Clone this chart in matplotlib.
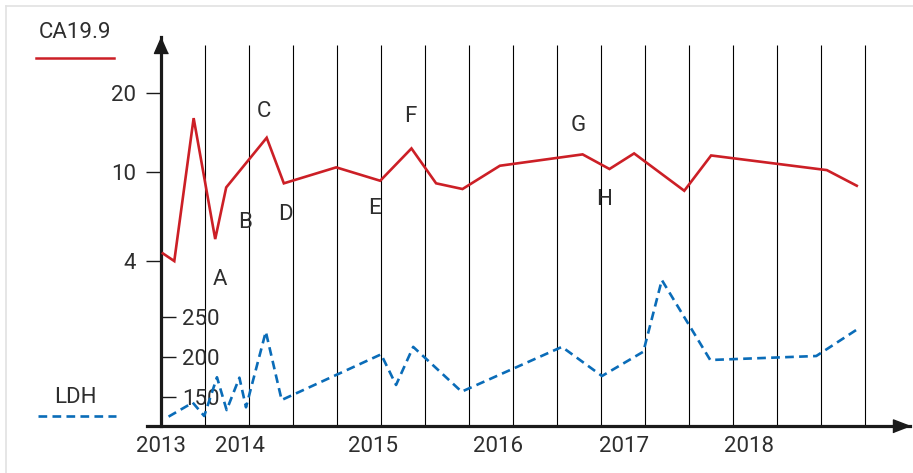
import numpy as np
import matplotlib
matplotlib.use("Agg")
from matplotlib import pyplot as plt
from matplotlib.lines import Line2D

# time axis: 1 unit = one vertical grid line
years = ["2013", "2014", "2015", "2016", "2017", "2018"]
year_pos = [0.0, 1.8, 4.82, 7.66, 10.52, 13.36]
grid_t = np.arange(1, 17)

ca_t = [0.04, 0.30, 0.74, 1.23, 1.48, 2.40, 2.79, 3.98, 4.98, 5.69,
        6.25, 6.85, 7.70, 9.58, 10.19, 10.75, 11.89, 12.5, 15.13, 15.81]
ca_val = [4.33, 4.0, 16.1, 5.02, 8.56, 13.55, 8.93, 10.45, 9.17, 12.34,
          8.93, 8.42, 10.6, 11.71, 10.3, 11.81, 8.27, 11.6, 10.2, 8.71]

ldh_t = [0.17, 0.72, 0.98, 1.27, 1.49, 1.78, 1.93, 2.38, 2.74, 5.0,
         5.34, 5.73, 6.83, 9.11, 10.02, 10.96, 11.38, 12.48, 14.89, 15.85]
ldh_val = [125.8, 143.3, 126.6, 175, 134, 174.5, 137.5, 232, 146.6, 203.7,
           165.4, 213, 157, 213, 176.6, 207, 296.6, 196.6, 201.6, 236]

events = ["A", "B", "C", "D", "E", "F", "G", "H"]
event_t = [1.34, 1.90, 2.34, 2.82, 4.84, 5.66, 9.49, 10.07]
event_ca = [3.31, 5.97, 17.1, 6.48, 6.89, 16.4, 15.05, 7.59]

ca_ticks = [4, 10, 20]
ldh_ticks = [150, 200, 250]

RED = "#cc1f26"
BLUE = "#0a6cb8"
TXT = "#2e2e2e"
AX = "#1a1a1a"
FS = 16

plt.rcParams['font.family'] = ['Roboto', 'DejaVu Sans']

# the CA19.9 axis is hand spaced: ticks sit at these axis fractions
ca_frac = [0.424, 0.652, 0.855]
lt = np.log10(ca_ticks)
s_lo = (ca_frac[1] - ca_frac[0]) / (lt[1] - lt[0])
s_hi = (ca_frac[2] - ca_frac[1]) / (lt[2] - lt[1])
LX = np.array([-6, lt[0], lt[1], lt[2], 6])
LF = np.array([ca_frac[0] - s_lo * (lt[0] + 6), ca_frac[0], ca_frac[1],
               ca_frac[2], ca_frac[2] + s_hi * (6 - lt[2])])

def ca_fwd(v):
    return np.interp(np.log10(np.clip(np.asarray(v, float), 1e-6, None)), LX, LF)

def ca_inv(f):
    return 10 ** np.interp(f, LF, LX)

W, H = 913, 473
fig = plt.figure(figsize=(W / 100, H / 100), dpi=100)
rect = [147 / W, (H - 426) / H, (910 - 147) / W, (426 - 37) / H]

ax1 = fig.add_axes(rect)
ax1.set_yscale('function', functions=(ca_fwd, ca_inv))
ax1.set_xlim(-0.32, 17.02)
ax1.set_ylim(ca_inv(0), ca_inv(1))

ax1.vlines(grid_t, 0, 0.979, transform=ax1.get_xaxis_transform(),
           colors="k", lw=0.8, zorder=1)
ax1.plot(ca_t, ca_val, color=RED, lw=1.9, zorder=3, solid_joinstyle='miter')

for lab, t, v in zip(events, event_t, event_ca):
    ax1.text(t, v, lab, ha='center', va='center', fontsize=FS, color=TXT)

for s in ["top", "right"]:
    ax1.spines[s].set_visible(False)
ax1.spines['left'].set_position(('data', 0))
for s in ["left", "bottom"]:
    ax1.spines[s].set_linewidth(2.3)
    ax1.spines[s].set_color(AX)

ax1.set_yticks(ca_ticks, labels=[str(v) for v in ca_ticks])
ax1.yaxis.set_minor_locator(matplotlib.ticker.NullLocator())
ax1.tick_params(axis='y', direction='out', length=10.5, width=1, pad=7.5,
                labelsize=FS, labelcolor=TXT, color=AX)
ax1.set_xticks(year_pos, labels=years)
ax1.tick_params(axis='x', length=0, pad=7, labelsize=FS, labelcolor=TXT)

# arrow heads
xtip = [(0, 0), (-1, 0.385), (-1, -0.385)]
ytip = [(0, 0), (-0.44, -1), (0.44, -1)]
ax1.plot([17.02], [0], marker=xtip, ms=24.5, color=AX, clip_on=False,
         transform=ax1.get_xaxis_transform(), zorder=5)
ax1.plot([0], [1], marker=ytip, ms=23, color=AX, clip_on=False,
         transform=ax1.get_xaxis_transform(), zorder=5)

# LDH on its own linear axis
ax2 = fig.add_axes(rect, sharex=ax1)
ax2.patch.set_visible(False)
ax2.set_ylim(114.1, 600.4)
ax2.plot(ldh_t, ldh_val, color=BLUE, lw=1.9, dashes=(3.3, 2.0), zorder=3)
for s in ["top", "right", "bottom"]:
    ax2.spines[s].set_visible(False)
ax2.spines['left'].set_position(('data', 0))
ax2.spines['left'].set_visible(False)
ax2.xaxis.set_visible(False)
ax2.set_yticks(ldh_ticks, labels=[str(v) for v in ldh_ticks])
ax2.tick_params(axis='y', direction='in', length=11, width=1, pad=-15,
                labelsize=FS, labelcolor=TXT, color=AX)
for tl in ax2.get_yticklabels():
    tl.set_horizontalalignment('left')

# legend
fig.text(75 / W, 1 - 32 / H, "CA19.9", ha='center', va='center', fontsize=FS, color=TXT)
fig.add_artist(Line2D([36 / W, 114 / W], [1 - 58.3 / H] * 2, color=RED, lw=1.8,
                      transform=fig.transFigure))
fig.text(75.3 / W, 1 - 397.3 / H, "LDH", ha='center', va='center', fontsize=FS, color=TXT)
fig.add_artist(Line2D([38 / W, 116 / W], [1 - 416.3 / H] * 2, color=BLUE, lw=1.9,
                      dashes=(3.3, 2.0), transform=fig.transFigure))

# light frame edge
fig.add_artist(Line2D([6 / W, 1], [1 - 6 / H] * 2, color="#e2e2e2", lw=1.2,
                      transform=fig.transFigure))
fig.add_artist(Line2D([6 / W] * 2, [0, 1 - 6 / H], color="#e2e2e2", lw=1.2,
                      transform=fig.transFigure))

fig.savefig("out.png", dpi=100, facecolor="white")
